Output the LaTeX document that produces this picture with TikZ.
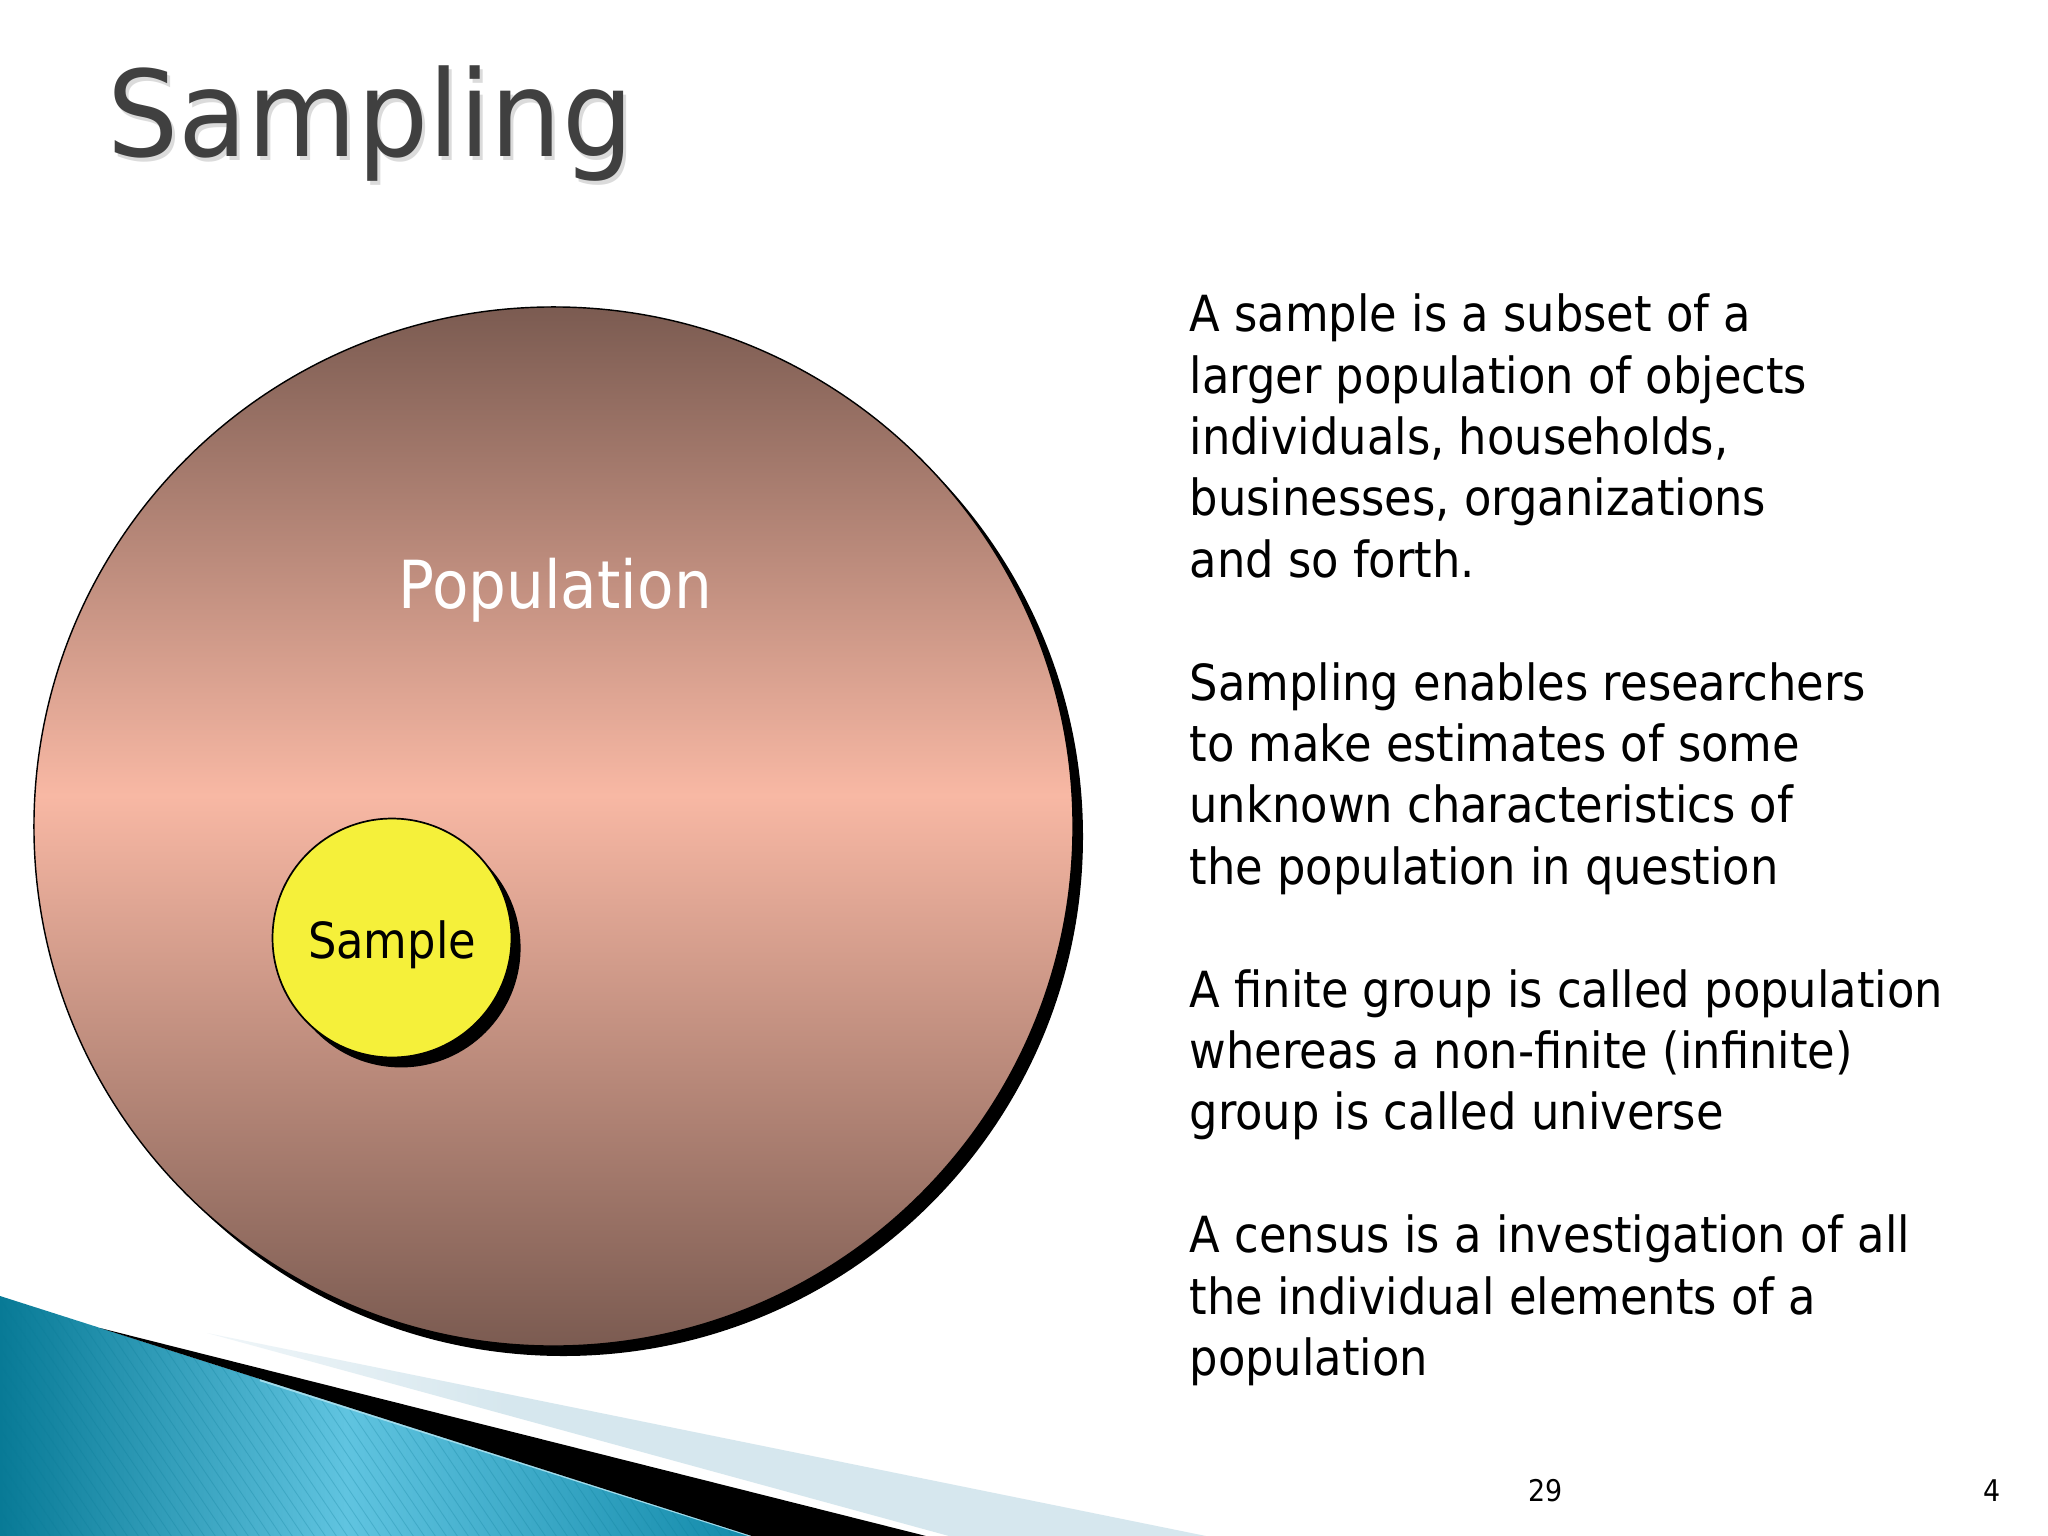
\documentclass[tikz,border=0pt]{standalone}
\usepackage{fontspec}
\setmainfont{DejaVu Sans}[FakeStretch=0.9]
\newfontfamily\slidetitlefont{DejaVu Sans}[FakeStretch=0.94]
\usetikzlibrary{shadows}
\definecolor{popdark}{RGB}{123,91,81}
\definecolor{poplight}{RGB}{248,184,164}
\definecolor{sampyellow}{RGB}{245,240,58}
\definecolor{tealdark}{RGB}{8,122,150}
\definecolor{teallight}{RGB}{96,196,224}
\definecolor{tealmid}{RGB}{18,138,170}
\definecolor{paleblue}{RGB}{214,231,238}
\definecolor{paletip}{RGB}{240,246,249}
\definecolor{titlegray}{RGB}{64,64,64}
\pgfdeclareverticalshading{popshade}{100bp}{color(0bp)=(popdark); color(25bp)=(popdark); color(51.5bp)=(poplight); color(75bp)=(popdark); color(100bp)=(popdark)}
\pgfdeclarehorizontalshading{tealshade}{100bp}{color(0bp)=(tealdark); color(25bp)=(tealdark); color(48bp)=(teallight); color(75bp)=(tealmid); color(100bp)=(tealmid)}
\pgfdeclarehorizontalshading{paleshade}{100bp}{color(0bp)=(paletip); color(25bp)=(paletip); color(40bp)=(paleblue); color(75bp)=(paleblue); color(100bp)=(paleblue)}
\tikzset{
  popcircle/.style={circle, minimum size=365.3bp, inner sep=0pt, outer sep=0pt,
    draw=black, line width=0.5bp, shade, shading=popshade,
    drop shadow={shadow xshift=3.5bp, shadow yshift=-3.5bp, fill=black, opacity=1}},
  sampcircle/.style={circle, minimum size=84bp, inner sep=0pt, outer sep=0pt,
    draw=black, line width=0.6bp, fill=sampyellow,
    drop shadow={shadow xshift=3.2bp, shadow yshift=-3.5bp, fill=black, opacity=1}},
  bodyline/.style={anchor=base west, inner sep=0pt, font=\fontsize{17.5bp}{21bp}\selectfont},
  pagenum/.style={anchor=base west, inner sep=0pt, font=\fontsize{10.5bp}{12bp}\selectfont},
  titletext/.style={anchor=base west, inner sep=0pt, font=\slidetitlefont\fontsize{42bp}{50bp}\selectfont},
}
\begin{document}
\begin{tikzpicture}[x=0.3515625bp, y=-0.3515625bp]
\useasboundingbox (0,0) rectangle (2048,1536);
\fill[white] (0,0) rectangle (2048,1536);

% bottom-left decoration
\shade[shading=tealshade] (0,1296) -- (752,1536) -- (0,1536) -- cycle;
\begin{scope}
  \clip (0,1296) -- (752,1536) -- (0,1536) -- cycle;
  \foreach \x in {-200,-189,...,800} {
    \draw[tealdark, opacity=0.25, line width=0.3bp] (\x,1280) -- (\x+176,1540);
  }
\end{scope}
\draw[teallight!60!white, line width=0.8bp] (260,1380) -- (752,1536);
\fill[black] (100,1328) -- (926,1536) -- (752,1536) -- cycle;
\shade[shading=paleshade] (207,1333) -- (1206,1536) -- (949,1536) -- cycle;

% title
\node[titletext, text=gray!35, opacity=0.8] (titleshadow) at (110,161) {Sampling};
\node[titletext, text=titlegray] (title) at (107,157) {Sampling};

% circles
\node[popcircle] (pop) at (553.5,826.5) {};
\node[anchor=base, inner sep=0pt, text=white, font=\fontsize{23.3bp}{28bp}\selectfont] (poplabel) at (555,608) {Population};
\node[sampcircle] (samp) at (392,938) {};
\node[anchor=base, inner sep=0pt, text=black, font=\fontsize{17.5bp}{21bp}\selectfont] (samplabel) at (392,958) {Sample};

% body text
\node[bodyline] (l0) at (1189,331.7) {A sample is a subset of a};
\node[bodyline] (l1) at (1189,393.1) {larger population of objects};
\node[bodyline] (l2) at (1189,454.5) {individuals, households,};
\node[bodyline] (l3) at (1189,515.9) {businesses, organizations};
\node[bodyline] (l4) at (1189,577.3) {and so forth.};
\node[bodyline] (l6) at (1189,700.1) {Sampling enables researchers};
\node[bodyline] (l7) at (1189,761.5) {to make estimates of some};
\node[bodyline] (l8) at (1189,822.9) {unknown characteristics of};
\node[bodyline] (l9) at (1189,884.3) {the population in question};
\node[bodyline] (l11) at (1189,1007.1) {A finite group is called population};
\node[bodyline] (l12) at (1189,1068.5) {whereas a non-finite (infinite)};
\node[bodyline] (l13) at (1189,1129.9) {group is called universe};
\node[bodyline] (l15) at (1189,1252.7) {A census is a investigation of all};
\node[bodyline] (l16) at (1189,1314.1) {the individual elements of a};
\node[bodyline] (l17) at (1189,1375.5) {population};

% page numbers
\node[pagenum] (pg1) at (1528,1501.7) {29};
\node[pagenum] (pg2) at (1983,1501.7) {4};
\end{tikzpicture}
\end{document}
